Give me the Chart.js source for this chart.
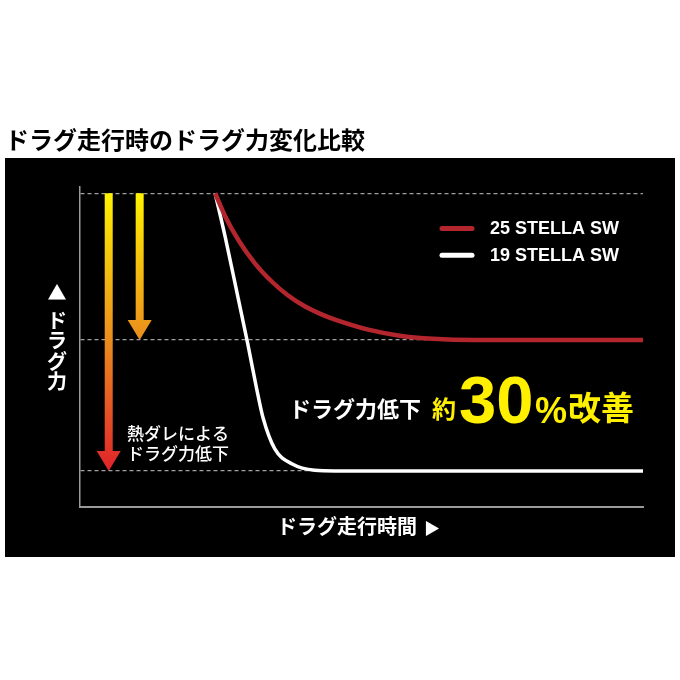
<!DOCTYPE html>
<html>
<head>
<meta charset="utf-8">
<script src="https://cdn.jsdelivr.net/npm/chart.js@4/dist/chart.umd.min.js"></script>
<style>
  html, body { margin: 0; padding: 0; background: #fff; }
  #wrap { width: 680px; height: 680px; }
</style>
</head>
<body>
<div id="wrap"><canvas id="dragChart" width="680" height="680"></canvas></div>
<script>
// data (time in % of run, drag force in % of start)
const chartTitle = 'ドラグ走行時のドラグ力変化比較';
const seriesLabels = ['25 STELLA SW', '19 STELLA SW'];
const time25 = [24.0, 25.8, 28.1, 31.1, 34.1, 36.9, 40.0, 43.0, 45.3, 51.0, 56.8, 62.7, 70, 100];
const force25 = [100, 92.6, 85.2, 77.6, 71.8, 67.5, 63.9, 61.3, 59.7, 56.6, 54.6, 53.6, 53.2, 53.2];
const time19 = [24.0, 25.8, 28.1, 29.8, 31.4, 32.5, 34.6, 37.7, 41.7, 45.3, 100];
const force19 = [100, 86.0, 66.5, 52.0, 37.5, 28.5, 18.5, 13.7, 11.7, 11.5, 11.5];
const levelTicks = [11.5, 53.2, 100];
const xAxisTitle = 'ドラグ走行時間';
const yAxisTitle = ['ド', 'ラ', 'グ', '力'];
const noteLines = ['熱ダレによる', 'ドラグ力低下'];

const JP = '"Noto Sans CJK JP", sans-serif';
const LATIN = '"Liberation Sans", Arial, sans-serif';

function toPoints(xs, ys) {
    return xs.map((x, i) => ({ x: x, y: ys[i] }));
}

// draws the panel, titles, legend, arrows and captions around the chart
const decorPlugin = {
    id: 'decor',
    beforeDraw(chart) {
        const ctx = chart.ctx;
        ctx.save();
        ctx.fillStyle = '#fff';
        ctx.fillRect(0, 0, chart.width, chart.height);
        ctx.fillStyle = '#000';
        ctx.fillRect(5, 158, 670, 399);
        // title
        ctx.fillStyle = '#000';
        ctx.font = 'bold 24px ' + JP;
        ctx.textBaseline = 'middle';
        ctx.textAlign = 'left';
        ctx.fillText(chartTitle, 5, 140);
        ctx.restore();
    },
    afterDatasetsDraw(chart) {
        const ctx = chart.ctx;
        const xs = chart.scales.x, ys = chart.scales.y;
        const top = ys.getPixelForValue(levelTicks[2]);
        const mid = ys.getPixelForValue(levelTicks[1]);
        const low = ys.getPixelForValue(levelTicks[0]);

        ctx.save();
        // arrows
        const grad = ctx.createLinearGradient(0, top, 0, low);
        grad.addColorStop(0, '#fff200');
        grad.addColorStop((mid - top) / (low - top), '#ea8c1e');
        grad.addColorStop(1, '#e0232a');
        ctx.fillStyle = grad;
        const drawArrow = (cx, y0, y1) => {
            ctx.fillRect(cx - 4, y0, 8, y1 - y0 - 19);
            ctx.beginPath();
            ctx.moveTo(cx - 12, y1 - 20);
            ctx.lineTo(cx + 12, y1 - 20);
            ctx.lineTo(cx, y1);
            ctx.closePath();
            ctx.fill();
        };
        drawArrow(xs.getPixelForValue(5.1), top, low);
        drawArrow(xs.getPixelForValue(10.6), top, mid);

        // note next to the long arrow
        ctx.fillStyle = '#fff';
        ctx.font = '500 17px ' + JP;
        ctx.textBaseline = 'middle';
        ctx.textAlign = 'left';
        ctx.fillText(noteLines[0], 127, 434);
        ctx.fillText(noteLines[1], 127, 454);

        // axis titles
        ctx.font = 'bold 20px ' + JP;
        ctx.fillText(xAxisTitle, 277, 526);
        ctx.font = '16px ' + JP;
        ctx.fillText('▶', 424, 528);
        ctx.textAlign = 'center';
        ctx.font = '19px ' + JP;
        ctx.fillText('▲', 57, 293);
        ctx.font = 'bold 20px ' + JP;
        yAxisTitle.forEach((ch, i) => ctx.fillText(ch, 57, 320 + i * 20.5));

        // legend
        chart.data.datasets.forEach((ds, i) => {
            const y = 228.5 + i * 26.7;
            ctx.strokeStyle = ds.borderColor;
            ctx.lineWidth = 5;
            ctx.lineCap = 'round';
            ctx.beginPath();
            ctx.moveTo(442, y);
            ctx.lineTo(472, y);
            ctx.stroke();
            ctx.fillStyle = '#fff';
            ctx.font = 'bold 18px ' + LATIN;
            ctx.textAlign = 'left';
            ctx.fillText(ds.label, 490, y + 0.5);
        });

        // caption
        ctx.textAlign = 'left';
        ctx.fillStyle = '#fff';
        ctx.font = 'bold 22px ' + JP;
        ctx.fillText('ドラグ力低下', 289, 408.5);
        ctx.fillStyle = '#fff000';
        ctx.font = 'bold 24px ' + JP;
        ctx.fillText('約', 432, 409);
        ctx.textBaseline = 'alphabetic';
        ctx.font = 'bold 67px ' + LATIN;
        ctx.fillText('30', 459, 423);
        ctx.font = 'bold 36px ' + LATIN;
        ctx.fillText('%', 535, 423);
        ctx.textBaseline = 'middle';
        ctx.font = 'bold 33px ' + JP;
        ctx.fillText('改善', 568, 407.5);
        ctx.restore();
    }
};

new Chart(document.getElementById('dragChart'), {
    type: 'line',
    data: {
        datasets: [{
            label: seriesLabels[0],
            data: toPoints(time25, force25),
            borderColor: '#b3262e',
            borderWidth: 4.5,
            pointRadius: 0,
            cubicInterpolationMode: 'monotone'
        }, {
            label: seriesLabels[1],
            data: toPoints(time19, force19),
            borderColor: '#ffffff',
            borderWidth: 3.5,
            pointRadius: 0,
            cubicInterpolationMode: 'monotone'
        }]
    },
    options: {
        responsive: false,
        animation: false,
        devicePixelRatio: 1,
        layout: {
            padding: { left: 80, top: 187, right: 37, bottom: 173 }
        },
        plugins: {
            legend: { display: false },
            tooltip: { enabled: false }
        },
        scales: {
            x: {
                type: 'linear',
                min: 0,
                max: 100,
                ticks: { display: false },
                grid: { display: false, drawTicks: false },
                border: { display: true, color: '#9a9a9a', width: 2 }
            },
            y: {
                min: 0,
                max: 102,
                afterBuildTicks: (scale) => {
                    scale.ticks = levelTicks.map(v => ({ value: v }));
                },
                ticks: { display: false },
                grid: { color: '#a0a0a0', lineWidth: 1.2, drawTicks: false },
                border: { display: true, color: '#9a9a9a', width: 1.5, dash: [4, 3] }
            }
        }
    },
    plugins: [decorPlugin]
});
</script>
</body>
</html>
